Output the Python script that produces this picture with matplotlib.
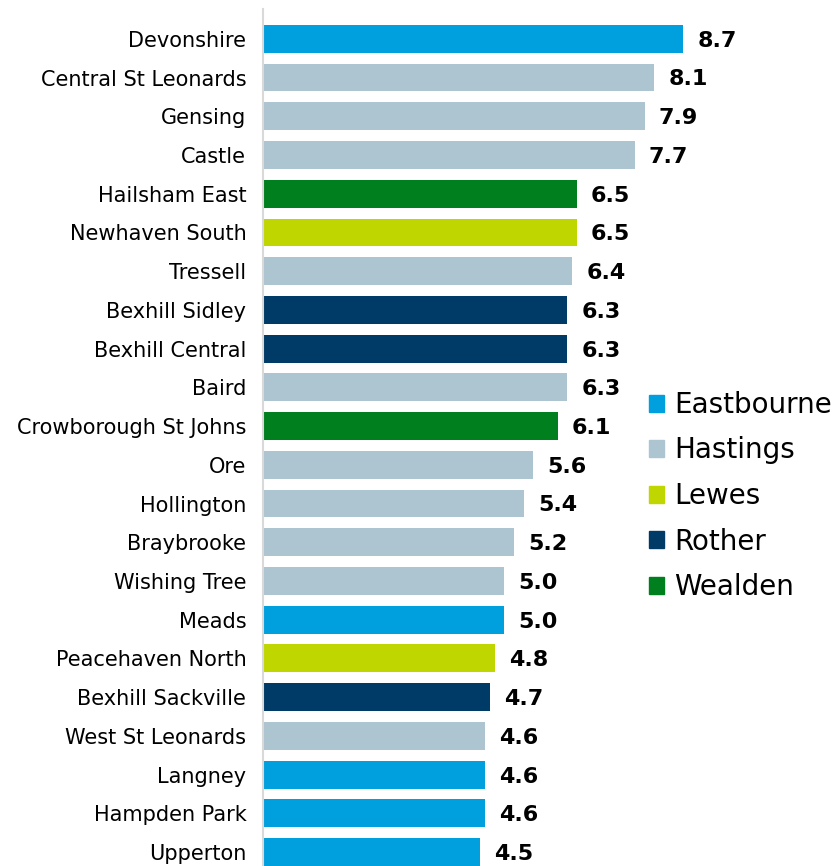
import matplotlib.pyplot as plt
from matplotlib.patches import Patch

# ward names, top to bottom
wards = ['Devonshire', 'Central St Leonards', 'Gensing', 'Castle', 'Hailsham East',
         'Newhaven South', 'Tressell', 'Bexhill Sidley', 'Bexhill Central', 'Baird',
         'Crowborough St Johns', 'Ore', 'Hollington', 'Braybrooke', 'Wishing Tree',
         'Meads', 'Peacehaven North', 'Bexhill Sackville', 'West St Leonards',
         'Langney', 'Hampden Park', 'Upperton']
values = [8.7, 8.1, 7.9, 7.7, 6.5, 6.5, 6.4, 6.3, 6.3, 6.3, 6.1, 5.6, 5.4, 5.2,
          5.0, 5.0, 4.8, 4.7, 4.6, 4.6, 4.6, 4.5]
districts = ['Eastbourne', 'Hastings', 'Hastings', 'Hastings', 'Wealden',
             'Lewes', 'Hastings', 'Rother', 'Rother', 'Hastings',
             'Wealden', 'Hastings', 'Hastings', 'Hastings', 'Hastings',
             'Eastbourne', 'Lewes', 'Rother', 'Hastings',
             'Eastbourne', 'Eastbourne', 'Eastbourne']

district_colours = {
    'Eastbourne': '#00A0DF',
    'Hastings': '#ADC4D1',
    'Lewes': '#BFD600',
    'Rother': '#003A67',
    'Wealden': '#007F1F',
}

fig = plt.figure(figsize=(8.37, 8.66), dpi=100)
ax = fig.add_axes([263 / 837, 0, 483 / 837, 1 - 9 / 866])

ypos = list(range(len(wards)))
cols = [district_colours[d] for d in districts]
ax.barh(ypos, values, height=0.72, color=cols)

for y, v in zip(ypos, values):
    ax.text(v + 0.29, y + 0.05, f'{v:.1f}', va='center', ha='left',
            fontsize=16, fontweight='bold', color='black')

ax.set_xlim(0, 10)
ax.set_ylim(len(wards) - 1 + 0.36, -0.77)
ax.set_yticks(ypos)
ax.set_yticklabels(wards, fontsize=15)
ax.tick_params(axis='y', length=0, pad=12)
ax.set_xticks([])
for s in ['top', 'right', 'bottom']:
    ax.spines[s].set_visible(False)
ax.spines['left'].set_color('#D9D9D9')
ax.spines['left'].set_linewidth(1.5)

handles = [Patch(color=c, label=k) for k, c in district_colours.items()]
fig.legend(handles=handles, loc='upper left', bbox_to_anchor=(624 / 837, 1 - 366 / 866),
           frameon=False, fontsize=20, handlelength=0.55, handleheight=0.55,
           handletextpad=0.36, labelspacing=0.63)

fig.savefig('out.png', dpi=100)
